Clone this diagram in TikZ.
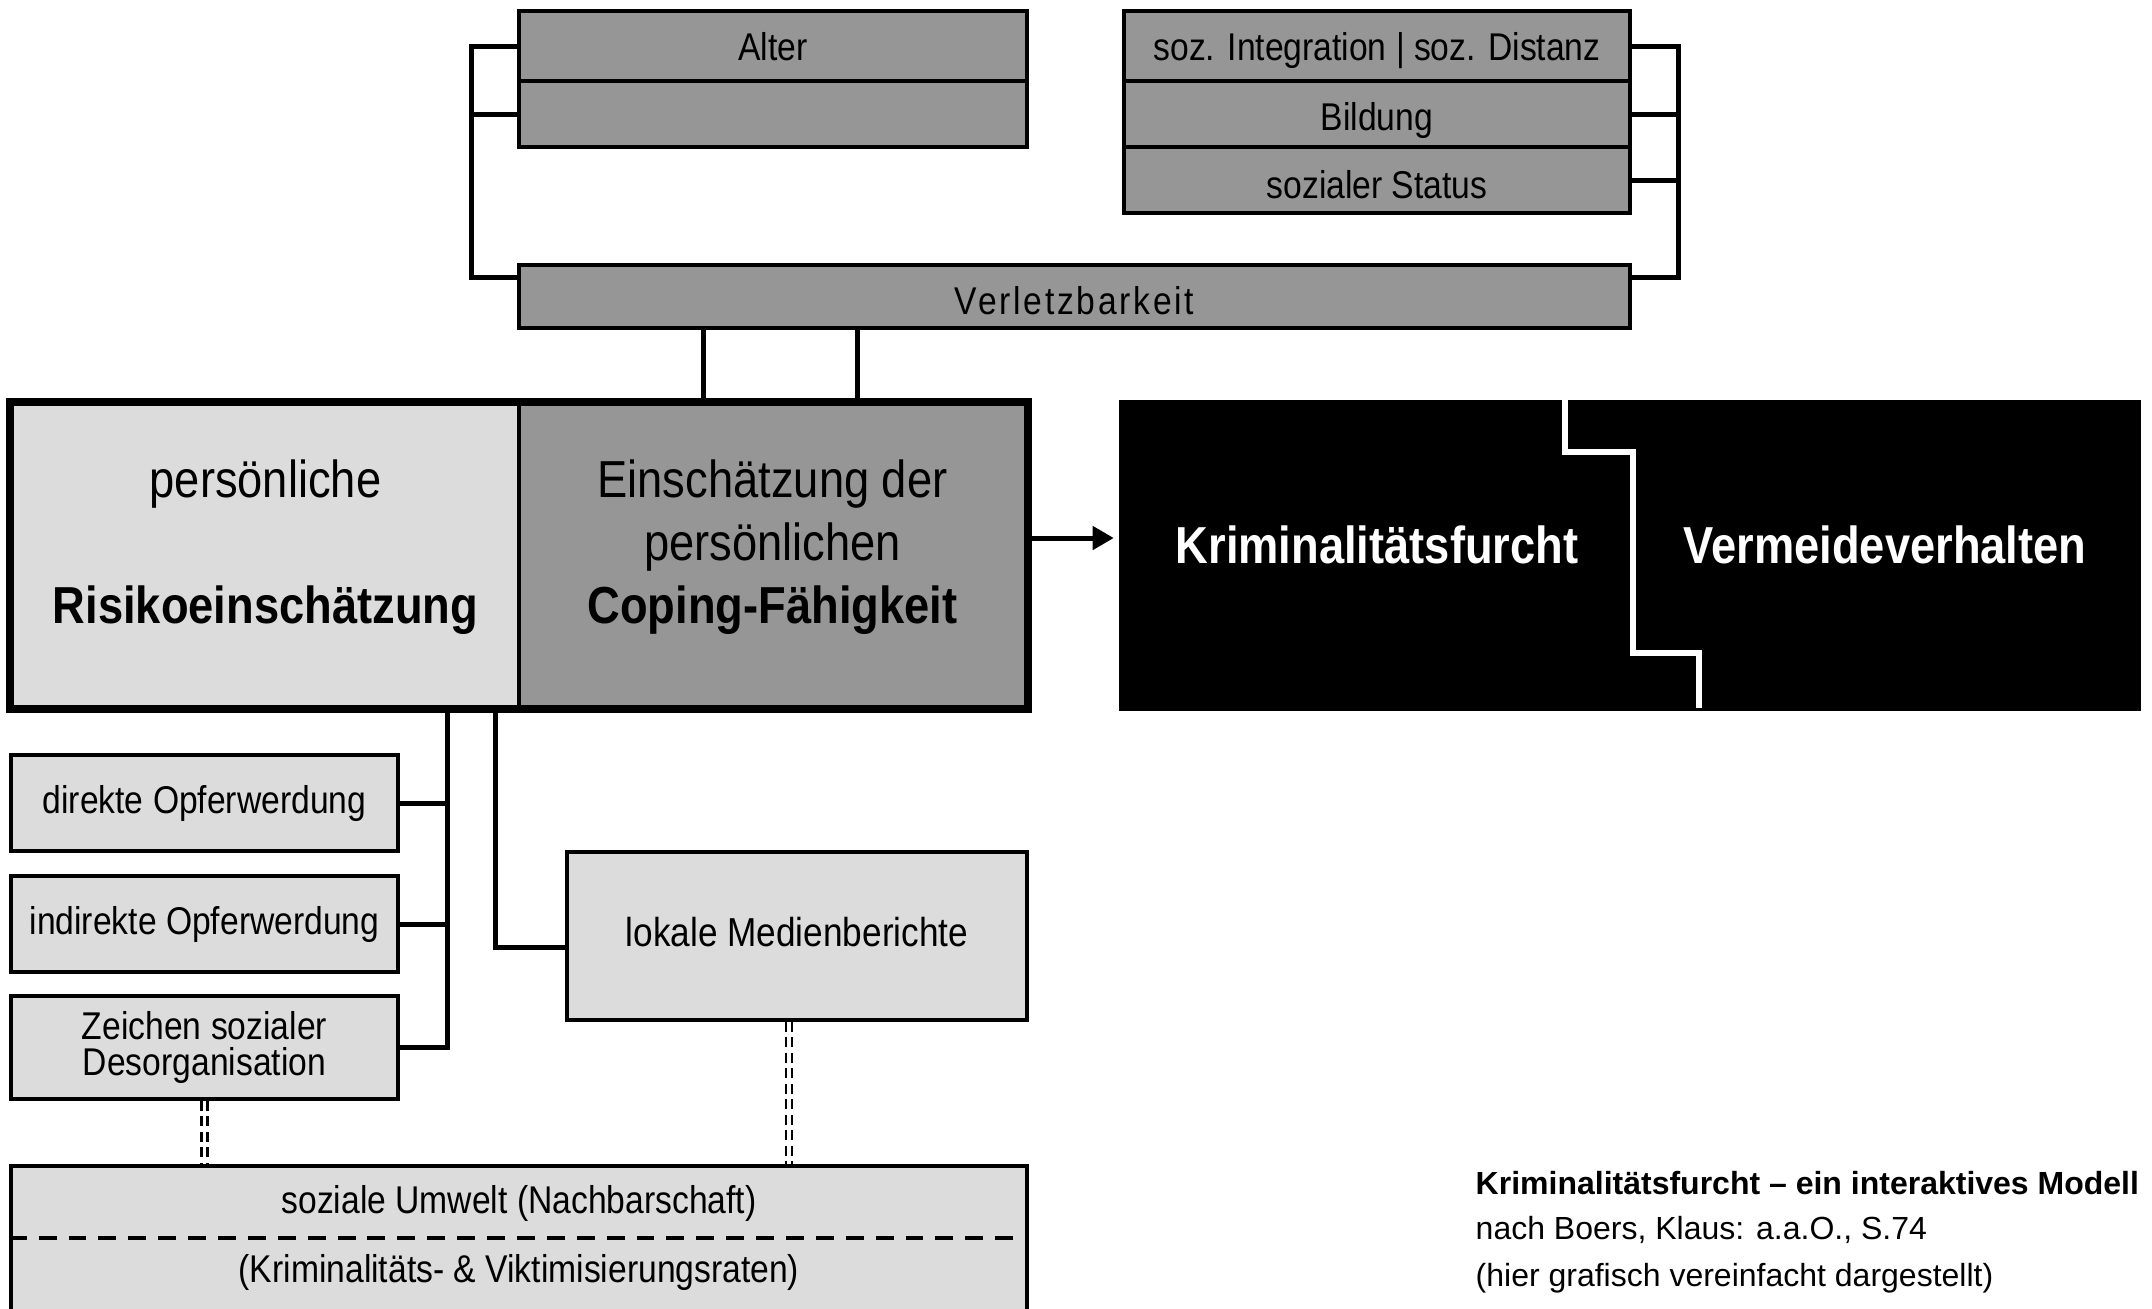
\documentclass[tikz,border=0pt]{standalone}
\usepackage{fontspec}
\setmainfont[FakeStretch=0.87]{Liberation Sans}
\newfontfamily\capfont{Liberation Sans}
\newfontfamily\spacedfont[FakeStretch=0.87,LetterSpace=7]{Liberation Sans}
\usetikzlibrary{arrows.meta,calc}
\definecolor{darkfill}{RGB}{150,150,150}
\definecolor{lightfill}{RGB}{220,220,220}
\begin{document}
\begin{tikzpicture}[x=0.01cm,y=-0.01cm,
  base/.style={draw=black, line width=1.1pt, inner sep=0pt, align=center,
    font=\fontsize{11}{10.5}\selectfont},
  one/.style={text height=8.2pt, text depth=2.3pt},
  lowa/.style={text height=10.4pt, text depth=2.3pt},
  lowb/.style={text height=11.4pt, text depth=2.3pt},
  lowc/.style={text height=12.8pt, text depth=2.3pt},
  darkbox/.style={base, fill=darkfill},
  lightbox/.style={base, fill=lightfill},
  bigtext/.style={inner sep=0pt, align=center, font=\fontsize{14.8}{17.9}\selectfont},
  whitetext/.style={inner sep=0pt, text=white, font=\bfseries\fontsize{14.8}{17.9}\selectfont},
  plaintext/.style={inner sep=0pt, font=\fontsize{11}{13}\selectfont},
  conn/.style={line width=1.42pt, line join=miter},
  dbl/.style={line width=0.6pt, double=white, double distance=1.1pt, dash pattern=on 2.8pt off 1.6pt},
  sepline/.style={line width=1pt, dash pattern=on 5.1pt off 3.4pt},
  captext/.style={anchor=west, inner sep=0pt}
]
\useasboundingbox (0,0) rectangle (2152,1308);
\clip (0,0) rectangle (2152,1308);
\fill[white] (0,0) rectangle (2152,1308);

% top boxes
\node[darkbox, lowa, minimum width=5.08cm, minimum height=0.70cm] (alter) at (773,46) {Alter};
\node[darkbox, minimum width=5.08cm, minimum height=0.66cm] (alterb) at (773,114) {};
\node[darkbox, lowa, minimum width=5.06cm, minimum height=0.70cm] (integ) at (1377,46) {soz. Integration | soz. Distanz};
\node[darkbox, lowb, minimum width=5.06cm, minimum height=0.66cm] (bild) at (1377,114) {Bildung};
\node[darkbox, lowc, minimum width=5.06cm, minimum height=0.66cm] (status) at (1377,180) {sozialer Status};
\node[darkbox, lowc, minimum width=11.11cm, minimum height=0.63cm,
      font=\spacedfont\fontsize{11}{13}\selectfont] (verl) at (1074.5,296.5) {Verletzbarkeit};

% brackets
\coordinate (lx) at (471,46);
\coordinate (lb) at (471,277);
\draw[conn] (alter.west) -- (lx) -- (lb) -- (lb -| verl.west);
\draw[conn] (alterb.west) -- (alterb.west -| lx);
\coordinate (rx) at (1678,46);
\coordinate (rb) at (1678,277);
\draw[conn] (integ.east) -- (rx) -- (rb) -- (rb -| verl.east);
\draw[conn] (bild.east) -- (bild.east -| rx);
\draw[conn] (status.east) -- (status.east -| rx);

% main box
\node[lightbox, minimum width=5.07cm, minimum height=3.03cm] (risk) at (265.5,555.5) {};
\node[darkbox, minimum width=5.07cm, minimum height=3.03cm] (coping) at (772.5,555.5) {};
\draw[line width=2.1pt] (risk.north west) rectangle (coping.south east);
\node[bigtext] (risktxt) at (265.5,547) {persönliche\\[17.9pt]\textbf{Risikoeinschätzung}};
\node[bigtext] (copetxt) at (772.5,547) {Einschätzung der\\persönlichen\\\textbf{Coping-Fähigkeit}};

% verletzbarkeit to main
\coordinate (v1) at (703,0);
\coordinate (v2) at (857,0);
\draw[conn] (verl.south -| v1) -- (coping.north -| v1);
\draw[conn] (verl.south -| v2) -- (coping.north -| v2);

% black box
\node[fill=black, draw=none, inner sep=0pt, minimum width=10.22cm, minimum height=3.11cm] (bbox) at (1630,555.5) {};
\draw[white, line width=1.5pt] (1565,400) -- (1565,452) -- (1633,452) -- (1633,653) -- (1699,653) -- (1699,708);
\node[whitetext] (fear) at (1377,545) {Kriminalitätsfurcht};
\node[whitetext] (avoid) at (1885,545) {Vermeideverhalten};

% arrow
\coordinate (ay) at (0,538);
\draw[conn, -{Triangle[length=6pt,width=6.5pt]}, shorten >=1.2pt] (coping.east |- ay) -- (bbox.west |- ay);

% lower-left boxes
\node[lightbox, one, minimum width=3.87cm, minimum height=0.96cm] (direkt) at (204.5,803) {direkte Opferwerdung};
\node[lightbox, one, minimum width=3.87cm, minimum height=0.96cm] (indirekt) at (204.5,924) {indirekte Opferwerdung};
\node[lightbox, minimum width=3.87cm, minimum height=1.03cm] (zeichen) at (204.5,1047.5) {Zeichen sozialer\\Desorganisation};
\node[lightbox, one, minimum width=4.60cm, minimum height=1.68cm, font=\fontsize{11.5}{13}\selectfont] (lokal) at (797,936) {lokale Medienberichte};

\coordinate (bx) at (447,0);
\draw[conn] (risk.south -| bx) -- (bx |- zeichen.east) -- (zeichen.east);
\draw[conn] (direkt.east) -- (direkt.east -| bx);
\draw[conn] (indirekt.east) -- (indirekt.east -| bx);
\coordinate (mx) at (495,947);
\draw[conn] (risk.south -| mx) -- (mx) -- (mx -| lokal.west);

% soziale Umwelt
\node[lightbox, minimum width=10.16cm, minimum height=1.54cm] (umwelt) at (519,1243) {};
\coordinate (dy) at (0,1238);
\draw[sepline] (umwelt.west |- dy) -- (umwelt.east |- dy);
\node[plaintext] (u1) at (519,1203) {soziale Umwelt (Nachbarschaft)};
\node[plaintext] (u2) at (519,1272) {(Kriminalitäts- \& Viktimisierungsraten)};

\coordinate (dx) at (789,0);
\draw[dbl] (zeichen.south) -- (zeichen.south |- umwelt.north);
\draw[dbl] (lokal.south -| dx) -- (umwelt.north -| dx);

% caption
\node[captext, font=\capfont\bfseries\fontsize{9.1}{11}\selectfont] (c1) at (1475,1183) {Kriminalitätsfurcht – ein interaktives Modell};
\node[captext, font=\capfont\fontsize{9.1}{11}\selectfont] (c2) at (1475,1230) {nach Boers, Klaus: a.a.O., S.74};
\node[captext, font=\capfont\fontsize{9.1}{11}\selectfont] (c3) at (1475,1278) {(hier grafisch vereinfacht dargestellt)};
\end{tikzpicture}
\end{document}
